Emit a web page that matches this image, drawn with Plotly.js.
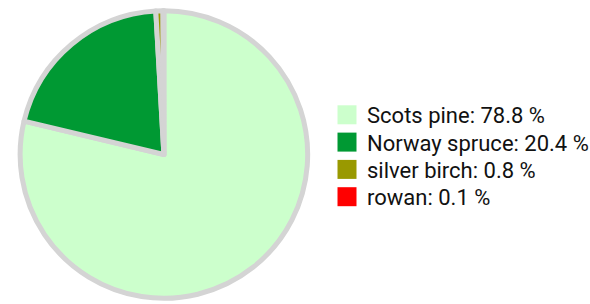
<!DOCTYPE html>
<html>
<head>
<meta charset="utf-8">
<script src="https://cdn.plot.ly/plotly-3.0.1.min.js"></script>
<style>html,body{margin:0;padding:0;background:#fff;}#chart{width:590px;height:304px;}</style>
</head>
<body>
<div id="chart"></div>
<script>
const species = ["Scots pine", "Norway spruce", "silver birch", "rowan"];
const shares = [78.8, 20.4, 0.8, 0.1];
const colors = ["#ccffcc", "#009933", "#999900", "#ff0000"];

const labels = species.map((s, i) => s + ": " + shares[i].toFixed(1) + " %");

const W = 590, H = 304;
const cx = 165.3, cy = 154.5, r = 145;

const trace = {
  type: "pie",
  labels: labels,
  values: shares,
  sort: false,
  direction: "clockwise",
  rotation: 0,
  textinfo: "none",
  hoverinfo: "none",
  marker: { colors: colors, line: { color: "#d4d4d4", width: 5 } },
  domain: { x: [(cx - r) / W, (cx + r) / W], y: [(H - cy - r) / H, (H - cy + r) / H] }
};

const layout = {
  width: W, height: H,
  margin: { l: 0, r: 0, t: 0, b: 0 },
  paper_bgcolor: "#ffffff",
  showlegend: true,
  legend: {
    x: 326 / W, xanchor: "left",
    y: 1 - 94 / H, yanchor: "top",
    font: { family: "Roboto, sans-serif", size: 22, color: "#111111" },
    bgcolor: "rgba(0,0,0,0)",
    itemclick: false, itemdoubleclick: false
  }
};

Plotly.newPlot("chart", [trace], layout, { staticPlot: true, displayModeBar: false }).then(function () {
  document.querySelectorAll(".legend .legendpoints path").forEach(function (p) {
    p.setAttribute("d", "M9.5,9.5H-9.5V-9.5H9.5Z");
    p.style.strokeWidth = "0px";
  });
  // tighten row spacing and nudge items to match reference
  const items = document.querySelectorAll(".legend .traces");
  let y0 = null;
  items.forEach(function (g, i) {
    const t = g.getAttribute("transform") || "";
    const m = t.match(/translate\(([-\d.]+),\s*([-\d.]+)\)/);
    if (!m) return;
    const x = parseFloat(m[1]), y = parseFloat(m[2]);
    if (y0 === null) y0 = y;
    g.setAttribute("transform", "translate(" + (x + 4) + "," + (y0 + i * 27.3) + ")");
  });
  const clip = document.querySelector(".legend .scrollbox");
  if (clip) clip.removeAttribute("clip-path");
  const lc = document.querySelectorAll("clipPath[id^='legend'] rect");
  lc.forEach(function (rc) { rc.setAttribute("width", "400"); });
});
</script>
</body>
</html>
